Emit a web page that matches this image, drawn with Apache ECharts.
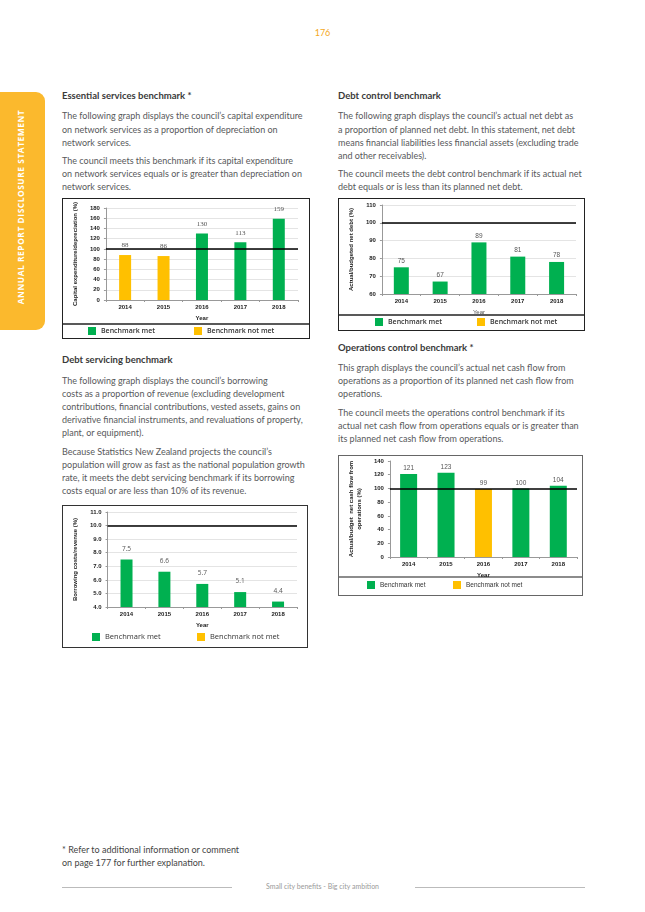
<!DOCTYPE html>
<html><head><meta charset="utf-8">
<script src="https://cdn.jsdelivr.net/npm/echarts@6/dist/echarts.min.js"></script>
<style>
html,body{margin:0;padding:0;background:#fff;}
#page{position:relative;width:645px;height:912px;overflow:hidden;font-family:Lato,"Open Sans",sans-serif;}
.t{position:absolute;white-space:nowrap;font-size:9px;line-height:12px;color:#58595b;}
.h{position:absolute;white-space:nowrap;font-size:9.5px;line-height:12px;color:#3a3a3a;font-weight:bold;}
.box{position:absolute;border:1.3px solid #222;box-sizing:border-box;}
#tab{position:absolute;left:-10px;top:92px;width:55px;height:238px;background:#fbb92d;border-radius:9px;}
#tabtxt{position:absolute;left:20px;top:207px;transform:translate(-50%,-50%) rotate(-90deg);color:#fff;font-weight:bold;font-size:8.4px;letter-spacing:0.55px;white-space:nowrap;font-family:"Open Sans",sans-serif;}
</style></head>
<body><div id="page">
<div style="position:absolute;left:0;width:645px;top:27px;text-align:center;font-size:9px;color:#f4a81d;">176</div>
<div id="tab"></div><div id="tabtxt">ANNUAL REPORT DISCLOSURE STATEMENT</div>

<div class="h" style="left:62px;top:90px;">Essential services benchmark *</div>
<div class="t" style="left:62px;top:110px;">The following graph displays the council’s capital expenditure</div>
<div class="t" style="left:62px;top:124px;">on network services as a proportion of depreciation on</div>
<div class="t" style="left:62px;top:137px;">network services.</div>
<div class="t" style="left:62px;top:155px;">The council meets this benchmark if its capital expenditure</div>
<div class="t" style="left:62px;top:168px;">on network services equals or is greater than depreciation on</div>
<div class="t" style="left:62px;top:181px;">network services.</div>

<div class="h" style="left:338px;top:90px;">Debt control benchmark</div>
<div class="t" style="left:338px;top:110px;">The following graph displays the council’s actual net debt as</div>
<div class="t" style="left:338px;top:124px;">a proportion of planned net debt. In this statement, net debt</div>
<div class="t" style="left:338px;top:137px;">means financial liabilities less financial assets (excluding trade</div>
<div class="t" style="left:338px;top:150px;">and other receivables).</div>
<div class="t" style="left:338px;top:168px;">The council meets the debt control benchmark if its actual net</div>
<div class="t" style="left:338px;top:181px;">debt equals or is less than its planned net debt.</div>

<div class="h" style="left:62px;top:354px;">Debt servicing benchmark</div>
<div class="t" style="left:62px;top:375px;">The following graph displays the council’s borrowing</div>
<div class="t" style="left:62px;top:388px;">costs as a proportion of revenue (excluding development</div>
<div class="t" style="left:62px;top:401px;">contributions, financial contributions, vested assets, gains on</div>
<div class="t" style="left:62px;top:414px;">derivative financial instruments, and revaluations of property,</div>
<div class="t" style="left:62px;top:427px;">plant, or equipment).</div>
<div class="t" style="left:62px;top:446px;">Because Statistics New Zealand projects the council’s</div>
<div class="t" style="left:62px;top:459px;">population will grow as fast as the national population growth</div>
<div class="t" style="left:62px;top:472px;">rate, it meets the debt servicing benchmark if its borrowing</div>
<div class="t" style="left:62px;top:485px;">costs equal or are less than 10% of its revenue.</div>

<div class="h" style="left:338px;top:342px;">Operations control benchmark *</div>
<div class="t" style="left:338px;top:362px;">This graph displays the council’s actual net cash flow from</div>
<div class="t" style="left:338px;top:375px;">operations as a proportion of its planned net cash flow from</div>
<div class="t" style="left:338px;top:388px;">operations.</div>
<div class="t" style="left:338px;top:407px;">The council meets the operations control benchmark if its</div>
<div class="t" style="left:338px;top:420px;">actual net cash flow from operations equals or is greater than</div>
<div class="t" style="left:338px;top:433px;">its planned net cash flow from operations.</div>

<div class="t" style="left:62px;top:844px;color:#444;">* Refer to additional information or comment</div>
<div class="t" style="left:62px;top:857px;color:#444;">on page 177 for further explanation.</div>
<div style="position:absolute;left:62px;top:887px;width:170px;height:1px;background:#bbb;"></div>
<div style="position:absolute;left:415px;top:887px;width:170px;height:1px;background:#bbb;"></div>
<div style="position:absolute;left:0;width:645px;top:882px;text-align:center;font-size:7px;color:#999;font-family:Lato,sans-serif;">Small city benefits - Big city ambition</div>

<div id="c1" class="box" style="left:62px;top:198px;width:248px;height:141px;"></div>
<div id="c2" class="box" style="left:338px;top:198px;width:247px;height:133px;"></div>
<div id="c3" class="box" style="left:62px;top:505px;width:246px;height:143px;border-color:#333;"></div>
<div id="c4" class="box" style="left:338px;top:455px;width:245px;height:141px;border-color:#666;"></div>
</div>
<script>
// ---- data ----
const years = ['2014', '2015', '2016', '2017', '2018'];
const essentialMet = [null, null, 130, 113, 159];
const essentialNotMet = [88, 86, null, null, null];
const essentialBenchmark = 100;
const essentialAxis = [0, 180, 20];

const debtControlMet = [75, 67, 89, 81, 78];
const debtControlNotMet = [null, null, null, null, null];
const debtControlBenchmark = 100;
const debtControlAxis = [60, 110, 10];

const debtServicingMet = [7.5, 6.6, 5.7, 5.1, 4.4];
const debtServicingNotMet = [null, null, null, null, null];
const debtServicingBenchmark = 10;
const debtServicingAxis = [4, 11, 1];

const operationsMet = [121, 123, null, 100, 104];
const operationsNotMet = [null, null, 99, null, null];
const operationsBenchmark = 100;
const operationsAxis = [0, 140, 20];

const legendNames = ['Benchmark met', 'Benchmark not met'];
const GREEN = '#00b050', YELLOW = '#ffc000';

function build(id, c) {
  const chart = echarts.init(document.getElementById(id), null, {renderer: 'canvas'});
  const lbl = {show: true, position: 'top', distance: c.valDist, fontSize: c.valFont, color: '#555', fontFamily: c.valFamily,
    formatter: p => p.value == null ? '' : (c.dec ? Number(p.value).toFixed(c.dec) : p.value)};
  const series = [
    {name: legendNames[0], type: 'bar', stack: 's', data: c.met, barWidth: c.barW, itemStyle: {color: GREEN}, label: lbl,
      markLine: {silent: true, symbol: 'none', label: {show: false}, lineStyle: {color: '#000', width: 1.6, type: 'solid'},
        data: [{yAxis: c.bench}]}},
    {name: legendNames[1], type: 'bar', stack: 's', data: c.notMet, barWidth: c.barW, itemStyle: {color: YELLOW}, label: lbl}
  ];
  const legendText = {fontSize: c.legFont, color: '#333', fontFamily: c.legFamily, fontWeight: c.legWeight || 'normal'};
  const graphic = [];
  if (c.divider != null) graphic.push({type: 'line', shape: {x1: 0, y1: c.divider, x2: 400, y2: c.divider}, style: {stroke: c.border || '#222', lineWidth: 1.3}});
  chart.setOption({
    animation: false,
    grid: {left: c.grid[0], top: c.grid[1], width: c.grid[2], height: c.grid[3], containLabel: false},
    xAxis: {type: 'category', data: years, axisLine: {lineStyle: {color: '#999', width: 1}}, axisTick: {show: true, length: 2, lineStyle: {color: '#999'}},
      axisLabel: {fontSize: 6, fontWeight: 'bold', color: '#222', fontFamily: 'Liberation Sans, Arial', margin: 4},
      name: 'Year', nameLocation: 'middle', nameGap: c.yearGap, nameTextStyle: {fontSize: 6, fontWeight: c.yearWeight || 'bold', color: c.yearColor || '#222', fontFamily: 'Liberation Sans, Arial'}},
    yAxis: {type: 'value', min: c.axis[0], max: c.axis[1], interval: c.axis[2],
      axisLine: {show: true, lineStyle: {color: '#999', width: 1}}, axisTick: {show: true, length: 2, lineStyle: {color: '#999'}},
      splitLine: {show: c.grids, lineStyle: {color: '#ddd', width: 0.8}},
      axisLabel: {fontSize: 6, fontWeight: 'bold', color: '#222', fontFamily: 'Liberation Sans, Arial', margin: 6,
        formatter: v => c.dec ? v.toFixed(c.dec) : v},
      name: c.yName, nameLocation: 'middle', nameGap: c.yNameGap, nameRotate: 90,
      nameTextStyle: {fontSize: 6, fontWeight: 'bold', color: '#222', fontFamily: 'Liberation Sans, Arial', lineHeight: 8}},
    legend: [
      {data: [legendNames[0]], left: c.leg[0], top: c.leg[2], padding: 0, itemWidth: 8, itemHeight: 8, icon: 'rect', textStyle: legendText, selectedMode: false},
      {data: [legendNames[1]], left: c.leg[1], top: c.leg[2], padding: 0, itemWidth: 8, itemHeight: 8, icon: 'rect', textStyle: legendText, selectedMode: false}
    ],
    graphic: graphic,
    series: series
  });
}

build('c1', {met: essentialMet, notMet: essentialNotMet, bench: essentialBenchmark, axis: essentialAxis,
  grid: [35, 6, 200, 95], barW: 12, grids: true, yearGap: 14, yName: 'Capital expenditure/depreciation (%)', yNameGap: 24,
  leg: [25, 131, 128], legFont: 7, legFamily: 'Open Sans', legWeight: 600, divider: 125, valFont: 7, valFamily: 'Liberation Serif', valDist: 6});
build('c2', {met: debtControlMet, notMet: debtControlNotMet, bench: debtControlBenchmark, axis: debtControlAxis,
  grid: [36, 6, 201, 89], barW: 15, grids: true, yearGap: 10.5, yearWeight: 'normal', yearColor: '#555', yName: 'Actual/budgeted net debt (%)', yNameGap: 26,
  leg: [36, 138, 119], legFont: 7, legFamily: 'Open Sans', legWeight: 600, divider: 116, valFont: 6.5, valFamily: 'Liberation Sans', valDist: 3});
build('c3', {met: debtServicingMet, notMet: debtServicingNotMet, bench: debtServicingBenchmark, axis: debtServicingAxis, dec: 1,
  grid: [35, 6, 199, 95], barW: 12, grids: true, yearGap: 14, yName: 'Borrowing costs/revenue (%)', yNameGap: 24,
  leg: [29, 134, 127], legFont: 7.5, legFamily: 'Open Sans', legWeight: 500, divider: null, valFont: 6.5, valFamily: 'Open Sans', valDist: 7});
build('c4', {met: operationsMet, notMet: operationsNotMet, bench: operationsBenchmark, axis: operationsAxis,
  grid: [38, 5, 200, 96], barW: 17, grids: false, yearGap: 13, yName: 'Actual/budget  net cash flow from\noperations (%)', yNameGap: 18,
  leg: [28, 114, 125], legFont: 6.5, legFamily: 'Liberation Sans', legWeight: 'normal', divider: 121, border: '#666', valFont: 6.5, valFamily: 'Liberation Sans', valDist: 2});
</script>
</body></html>
